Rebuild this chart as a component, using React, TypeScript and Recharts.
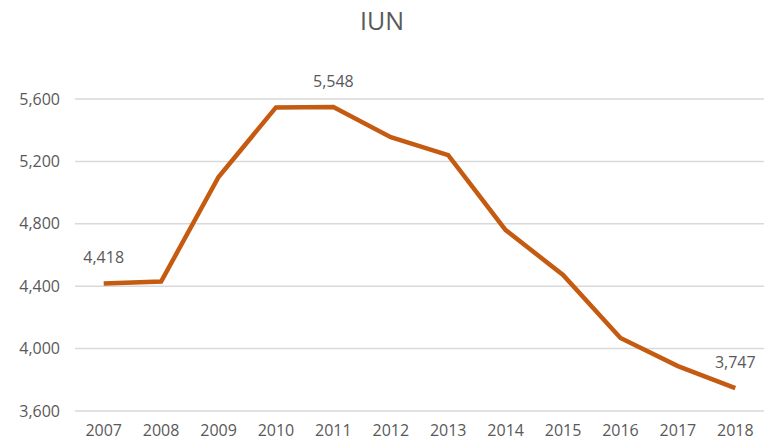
import { LineChart, Line, XAxis, YAxis, CartesianGrid, LabelList } from 'recharts';

const years = ['2007', '2008', '2009', '2010', '2011', '2012', '2013', '2014', '2015', '2016', '2017', '2018'];
const iun = [4418, 4430, 5100, 5546, 5548, 5355, 5240, 4760, 4472, 4068, 3888, 3747];
const yTicks = [3600, 4000, 4400, 4800, 5200, 5600];
const labelledIdx = [0, 4, 11];

const data = years.map((year, i) => ({ year, iun: iun[i] }));

const FONT = '"Open Sans", sans-serif';
const TEXT = '#595959';

const renderLabel = (props: any) => {
  const { x, y, value, index } = props;
  if (!labelledIdx.includes(index)) return null;
  return (
    <text x={x} y={y - 20} textAnchor="middle" fill={TEXT} fontSize={16} fontFamily={FONT}>
      {value.toLocaleString('en-US')}
    </text>
  );
};

const App = () => {
  return (
    <div style={{ position: 'absolute', left: 0, top: 0, width: 764, height: 446, background: '#fff' }}>
      <div
        style={{
          position: 'absolute',
          top: 3,
          width: 764,
          textAlign: 'center',
          fontFamily: FONT,
          fontSize: 25,
          color: TEXT,
        }}
      >
        IUN
      </div>
      <LineChart width={764} height={446} data={data} margin={{ top: 99, right: 0, bottom: 0, left: 0 }}>
        <CartesianGrid vertical={false} stroke="#d9d9d9" strokeWidth={1.5} />
        <XAxis
          dataKey="year"
          axisLine={false}
          tickLine={false}
          padding={{ left: 28.7, right: 28.7 }}
          height={35}
          tickMargin={8}
          tick={{ fill: TEXT, fontSize: 16, fontFamily: FONT }}
        />
        <YAxis
          domain={[3600, 5600]}
          ticks={yTicks}
          axisLine={false}
          tickLine={false}
          width={75}
          tickSize={0}
          tickMargin={15}
          tickFormatter={(v: number) => v.toLocaleString('en-US')}
          tick={{ fill: TEXT, fontSize: 16, fontFamily: FONT }}
        />
        <Line
          type="linear"
          dataKey="iun"
          stroke="#C55A11"
          strokeWidth={4.5}
          dot={false}
          isAnimationActive={false}
        >
          <LabelList dataKey="iun" content={renderLabel} />
        </Line>
      </LineChart>
    </div>
  );
};

export default App;
